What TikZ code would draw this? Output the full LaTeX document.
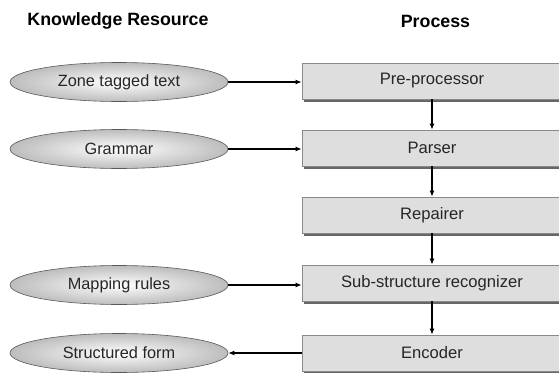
\documentclass[tikz,border=0pt]{standalone}
\usepackage{fontspec}
\setmainfont{Liberation Sans}
\usetikzlibrary{shapes.geometric,arrows.meta,shadows}
\definecolor{boxfill}{HTML}{DEDEDE}
\definecolor{boxline}{HTML}{8A8A8A}
\definecolor{txt}{HTML}{262626}
\begin{document}
\begin{tikzpicture}[x=1pt,y=-1pt,
  title/.style={font=\fontsize{17.8}{20}\selectfont\bfseries, text=black},
  res/.style={ellipse, draw=gray!70!black, line width=0.6pt, minimum width=218pt, minimum height=39pt, inner sep=0pt,
    shading=radial, inner color=white, outer color=gray!52,
    font=\fontsize{16.3}{19}\selectfont, text=txt},
  proc/.style={rectangle, draw=boxline, line width=0.8pt, fill=boxfill, minimum width=260pt, minimum height=36pt, inner sep=0pt,
    drop shadow={shadow xshift=2pt, shadow yshift=-2.5pt, fill=gray!80!black, opacity=1},
    font=\fontsize{16.6}{19}\selectfont, text=txt},
  arr/.style={line width=1.1pt, -{Latex[length=6pt,width=5pt]}}
]
\clip (0,0) rectangle (559,372);
\fill[white] (0,0) rectangle (559,372);
\node[title] (t1) at (118,21) {Knowledge Resource};
\node[title] (t2) at (435.5,21) {Process};

\node[proc] (pre) at (432,81) {\raisebox{-1pt}{Pre-processor}};
\node[proc] (par) at (432,148) {\raisebox{-1pt}{Parser}};
\node[proc] (rep) at (432,215) {\raisebox{-1pt}{Repairer}};
\node[proc] (sub) at (432,283) {\raisebox{-1pt}{Sub-structure recognizer}};
\node[proc] (enc) at (432,353) {\raisebox{-1pt}{Encoder}};

\node[res] (zone) at (119,82) {Zone tagged text};
\node[res] (gram) at (119,149) {Grammar};
\node[res] (map) at (119,285) {Mapping rules};
\node[res] (str) at (119,353) {Structured form};

\draw[arr] (zone.east) -- (zone.east -| pre.west);
\draw[arr] (gram.east) -- (gram.east -| par.west);
\draw[arr] (map.east) -- (map.east -| sub.west);
\draw[arr] (enc.west) -- (str.east);

\draw[arr] (pre.south) -- (par.north);
\draw[arr] (par.south) -- (rep.north);
\draw[arr] (rep.south) -- (sub.north);
\draw[arr] (sub.south) -- (enc.north);
\end{tikzpicture}
\end{document}
